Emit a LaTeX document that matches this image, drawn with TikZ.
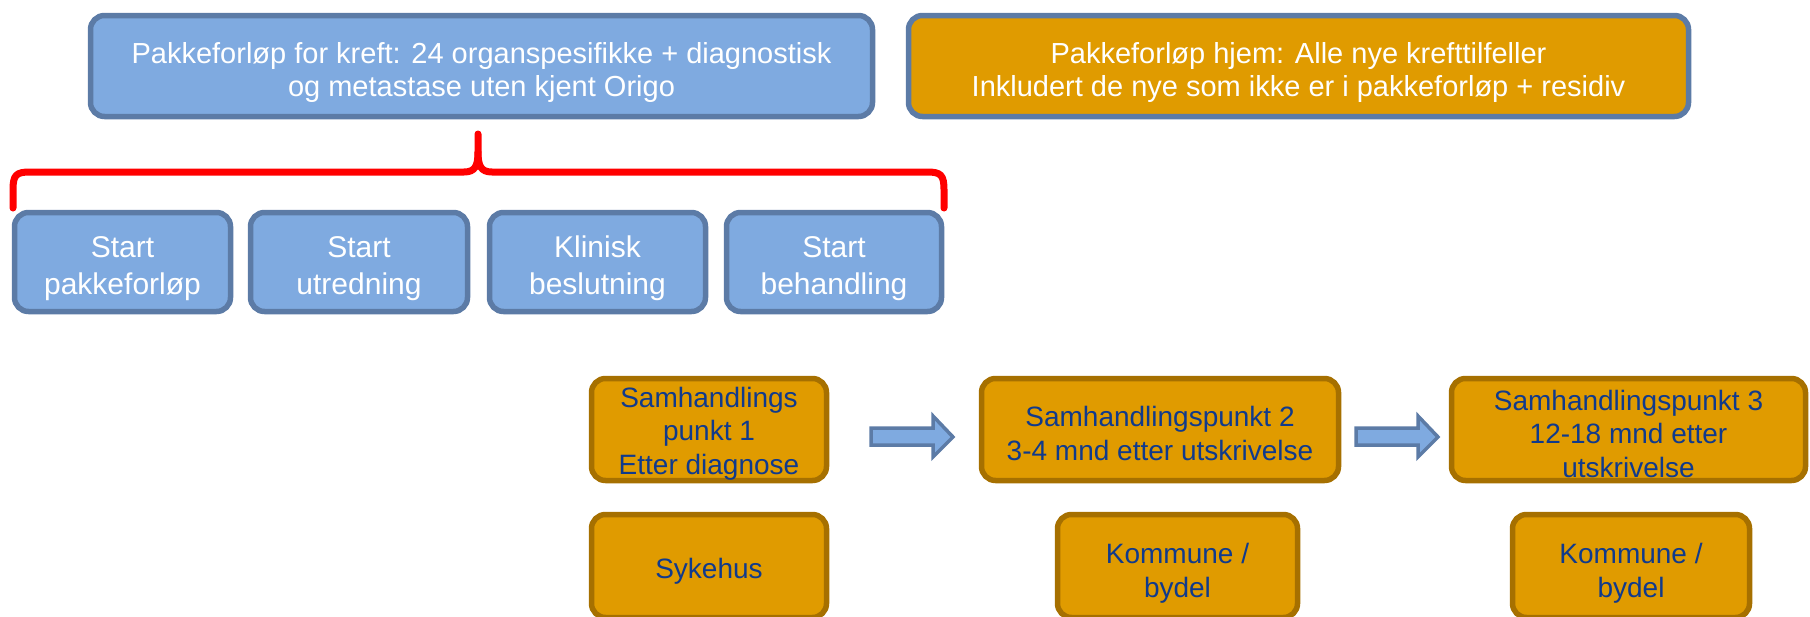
\documentclass[tikz,border=0pt]{standalone}
\usepackage{fontspec}
\setmainfont{Liberation Sans}
\definecolor{bluefill}{RGB}{127,170,224}
\definecolor{blueline}{RGB}{92,123,166}
\definecolor{orangefill}{RGB}{224,155,0}
\definecolor{orangeline}{RGB}{166,112,0}
\definecolor{darkbluetext}{RGB}{16,58,140}
\definecolor{bracered}{RGB}{255,0,0}
% strut that pushes the text block down a little
\newcommand{\dropline}[1]{\rule{0pt}{#1}}
\tikzset{
  box/.style={rounded corners=14pt, line width=5.5pt, align=center, inner sep=0pt},
  bluebox/.style={box, draw=blueline, fill=bluefill, text=white},
  headbox/.style={minimum height=101pt, font=\fontsize{29}{33}\selectfont},
  stepbox/.style={bluebox, minimum height=99pt, font=\fontsize{30}{37}\selectfont},
  homebox/.style={box, draw=blueline, fill=orangefill, text=white},
  pointbox/.style={box, draw=orangeline, fill=orangefill, text=darkbluetext,
    font=\fontsize{28}{33.5}\selectfont},
  blockarrow/.style={draw=blueline, fill=bluefill, line width=3.5pt, line join=miter},
  bracepath/.style={bracered, line width=7pt, line cap=round, line join=round},
}
\begin{document}
\begin{tikzpicture}[x=1pt,y=-1pt]
\useasboundingbox (0,0) rectangle (1810,616);
% Top boxes
\node[bluebox, headbox, minimum width=782pt] (kreft) at (481.5,66)
  {\dropline{35pt}Pakkeforløp for kreft: 24 organspesifikke + diagnostisk\\og metastase uten kjent Origo};
\node[homebox, headbox, minimum width=780pt] (hjem) at (1298.5,66)
  {\dropline{35pt}Pakkeforløp hjem: Alle nye krefttilfeller\\Inkludert de nye som ikke er i pakkeforløp + residiv};
% Red brace
\draw[bracepath]
  (13,208) -- (13,190) .. controls (13,175) and (16,172) .. (30,172) -- (464,172)
  .. controls (475,172) and (478,166) .. (478,152) -- (478,134);
\draw[bracepath]
  (944,208) -- (944,190) .. controls (944,175) and (941,172) .. (927,172) -- (492,172)
  .. controls (481,172) and (478,166) .. (478,152);
% Steps of the cancer pathway
\node[stepbox, minimum width=216pt] (start) at (122.5,262) {\dropline{34pt}Start\\pakkeforløp};
\node[stepbox, minimum width=217pt] (utredning) at (359,262) {\dropline{34pt}Start\\utredning};
\node[stepbox, minimum width=216pt] (beslutning) at (597.5,262) {\dropline{34pt}Klinisk\\beslutning};
\node[stepbox, minimum width=215pt] (behandling) at (834,262) {\dropline{34pt}Start\\behandling};
% Points of cooperation
\node[pointbox, minimum width=235pt, minimum height=102pt] (punkt1) at (709,429.5)
  {\dropline{28.5pt}Samhandlings\\punkt 1\\Etter diagnose};
\node[pointbox, minimum width=357pt, minimum height=102pt] (punkt2) at (1160,429.5)
  {\dropline{28.5pt}Samhandlingspunkt 2\\3-4 mnd etter utskrivelse};
\node[pointbox, minimum width=354pt, minimum height=102pt] (punkt3) at (1628.5,429.5)
  {\dropline{28.5pt}Samhandlingspunkt 3\\12-18 mnd etter\\utskrivelse};
% Arrows
\draw[blockarrow] (871,428) -- (933,428) -- (933,416) -- (953,437) -- (933,457) -- (933,445) -- (871,445) -- cycle;
\draw[blockarrow] (1356,428) -- (1418,428) -- (1418,416) -- (1438,437) -- (1418,457) -- (1418,445) -- (1356,445) -- cycle;
% Responsible parties
\node[pointbox, minimum width=235pt, minimum height=103pt] (sykehus) at (709,566) {\dropline{31pt}Sykehus};
\node[pointbox, minimum width=240pt, minimum height=103pt] (kommune2) at (1177.5,566) {\dropline{34.5pt}Kommune /\\bydel};
\node[pointbox, minimum width=237pt, minimum height=103pt] (kommune3) at (1631,566) {\dropline{34.5pt}Kommune /\\bydel};
\end{tikzpicture}
\end{document}
